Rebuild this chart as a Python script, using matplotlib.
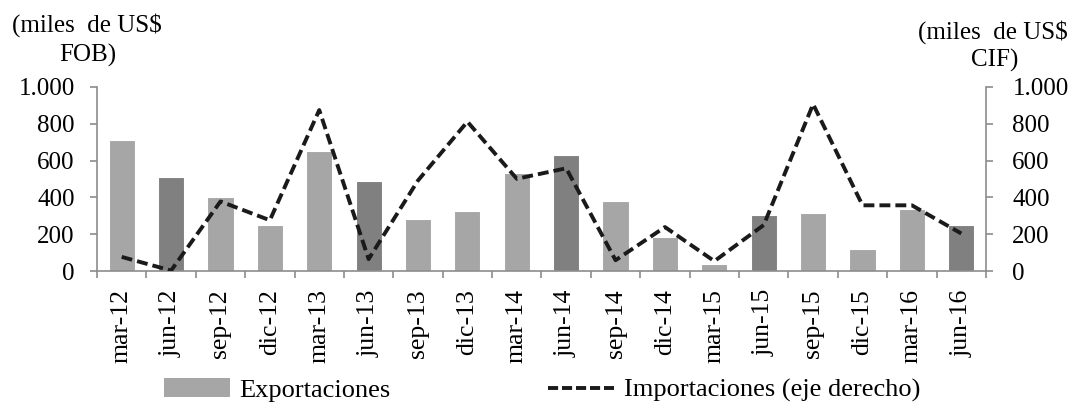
import matplotlib
matplotlib.use("Agg")
import matplotlib.pyplot as plt
from matplotlib.ticker import FuncFormatter
from matplotlib.patches import Patch
from matplotlib.lines import Line2D

plt.rcParams['font.family'] = ['Liberation Serif', 'DejaVu Serif']

categories = ["mar-12", "jun-12", "sep-12", "dic-12", "mar-13", "jun-13", "sep-13", "dic-13",
              "mar-14", "jun-14", "sep-14", "dic-14", "mar-15", "jun-15", "sep-15", "dic-15",
              "mar-16", "jun-16"]
exportaciones = [714, 511, 402, 252, 652, 491, 284, 326, 533, 630, 380, 186, 36, 304, 315, 120, 339, 250]
importaciones = [77, 3, 378, 276, 874, 65, 492, 811, 501, 558, 59, 239, 54, 250, 906, 357, 357, 204]

light = "#a6a6a6"
dark = "#808080"
spine_c = "#8c8c8c"
line_c = "#1a1a1a"
bar_colors = [dark if c.startswith("jun") else light for c in categories]

fig = plt.figure(figsize=(10.73, 4.04), dpi=100)
ax = fig.add_axes([0.0904, 0.329, 0.8285, 0.456])
ax2 = ax.twinx()

x = list(range(len(categories)))
ax.bar(x, exportaciones, width=0.53, color=bar_colors, edgecolor="white", linewidth=0.8, zorder=2)
ax2.plot(x, importaciones, color=line_c, linewidth=2.8, dashes=(2.8, 1.3), zorder=3)

fmt = FuncFormatter(lambda v, p: f"{int(v):,}".replace(",", "."))
for a in (ax, ax2):
    a.set_ylim(0, 1000)
    a.set_yticks([0, 200, 400, 600, 800, 1000])
    a.yaxis.set_major_formatter(fmt)
    for s in a.spines.values():
        s.set_visible(False)
ax.set_xlim(-0.5, len(categories) - 0.5)

for s in (ax.spines['left'], ax.spines['bottom'], ax2.spines['right']):
    s.set_visible(True)
    s.set_color(spine_c)
    s.set_linewidth(1.2)

ax.tick_params(axis='y', direction='out', length=5, width=1.2, color=spine_c, labelsize=18, pad=11)
ax2.tick_params(axis='y', direction='out', length=5, width=1.2, color=spine_c, labelsize=18, pad=14)

# category boundaries carry the ticks, names sit at the centres
ax.set_xticks([i - 0.5 for i in range(len(categories) + 1)])
ax.set_xticklabels([])
ax.tick_params(axis='x', which='major', direction='out', length=5, width=1.2, color=spine_c)
ax.set_xticks(x, minor=True)
ax.set_xticklabels(categories, minor=True, rotation=90, fontsize=18.5)
ax.tick_params(axis='x', which='minor', length=0, pad=13)

fig.text(0.011, 0.938, "(miles  de US$", fontsize=18, ha='left', va='center')
fig.text(0.082, 0.862, "FOB)", fontsize=18, ha='center', va='center')
fig.text(0.995, 0.921, "(miles  de US$", fontsize=18, ha='right', va='center')
fig.text(0.927, 0.851, "CIF)", fontsize=18, ha='center', va='center')

handles = [Patch(facecolor=light, edgecolor="none"),
           Line2D([0], [0], color=line_c, linewidth=2.8, dashes=(2.6, 1.0))]
fig.legend(handles, ["Exportaciones", "Importaciones (eje derecho)"], ncol=2, frameon=False,
           loc='center', bbox_to_anchor=(0.505, 0.034), fontsize=19, columnspacing=6.0,
           handlelength=2.5, handletextpad=0.35)

fig.savefig("out.png", dpi=100)
